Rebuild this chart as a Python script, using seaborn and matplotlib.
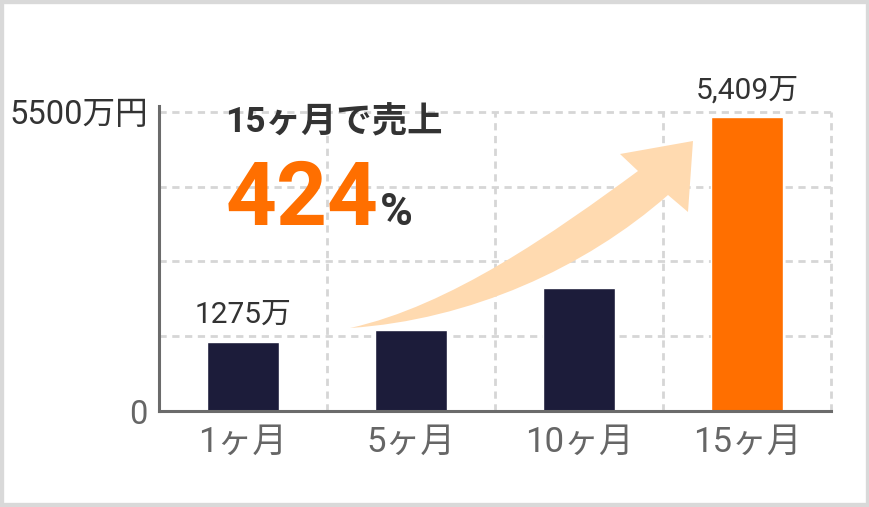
import matplotlib
matplotlib.use("Agg")
import matplotlib.pyplot as plt
import seaborn as sns
import pandas as pd
from matplotlib.path import Path
from matplotlib.patches import PathPatch, Rectangle

# --- data ---
months = ["1ヶ月", "5ヶ月", "10ヶ月", "15ヶ月"]
sales = [1275, 1490, 2255, 5409]          # 万円
bar_labels = ["1275万", "", "", "5,409万"]
bar_colors = ["#1c1c3a", "#1c1c3a", "#1c1c3a", "#ff6f00"]
ytick_values = [0, 1375, 2750, 4125, 5500]
ytick_labels = ["0", "", "", "", "5500万円"]

df = pd.DataFrame({"month": months, "sales": sales})

W, H = 870, 507
sns.set_style("white")
plt.rcParams["font.family"] = ["Roboto", "Noto Sans CJK JP", "DejaVu Sans"]

fig = plt.figure(figsize=(W / 100, H / 100), dpi=100)
ax = fig.add_axes([159 / W, (H - 411) / H, 672 / W, 305 / H])

sns.barplot(data=df, x="month", y="sales", hue="month", palette=bar_colors,
            width=0.43, saturation=1, legend=False, ax=ax, zorder=3)

ax.set_xlim(-0.5, 3.5)
ax.set_ylim(0, 5610)
ax.set_xlabel("")
ax.set_ylabel("")

# dashed grid
grid_kw = dict(color="#d6d6d6", lw=2.0, ls=(0, (2.6, 2)), zorder=0, clip_on=False)
for v in ytick_values[1:]:
    ax.plot([-0.5, 3.5], [v, v], **grid_kw)
for xv in [0.5, 1.5, 2.5, 3.5]:
    ax.plot([xv, xv], [0, 5500], **grid_kw)

ax.set_yticks(ytick_values)
ax.set_yticklabels(ytick_labels)
ax.tick_params(axis="y", length=0, pad=8, labelsize=23.5, labelcolor="#666666")
ax.get_yticklabels()[-1].set_color("#333333")
ax.tick_params(axis="x", length=0, pad=11, labelsize=25, labelcolor="#666666")

for side in ["top", "right"]:
    ax.spines[side].set_visible(False)
for side in ["left", "bottom"]:
    ax.spines[side].set_color("#6b6b6b")
    ax.spines[side].set_linewidth(2.2)
    ax.spines[side].set_zorder(4)

# value labels above bars
for i, (val, lab) in enumerate(zip(sales, bar_labels)):
    if lab:
        ax.annotate(lab, (i, val), xytext=(0, 9), textcoords="offset points",
                    ha="center", va="bottom", fontsize=21.5, color="#333333")

# growth arrow (decoration), in figure pixels
def fp(x, y):
    return (x / W, 1 - y / H)

verts = [fp(350, 328), fp(450, 306), fp(555, 232), fp(638, 171),
         fp(620, 154), fp(693, 141), fp(688, 212), fp(668, 195),
         fp(585, 268), fp(470, 320), fp(350, 328), fp(350, 328)]
codes = [Path.MOVETO, Path.CURVE4, Path.CURVE4, Path.CURVE4,
         Path.LINETO, Path.LINETO, Path.LINETO, Path.LINETO,
         Path.CURVE4, Path.CURVE4, Path.CURVE4, Path.CLOSEPOLY]
fig.patches.append(PathPatch(Path(verts, codes), transform=fig.transFigure,
                             facecolor="#ffdab0", edgecolor="none", zorder=1))

# headline
fig.text(225 / W, 1 - 123 / H, "15ヶ月で売上", fontsize=25.5, fontweight="bold",
         color="#333333", ha="left", va="center")
fig.text(226 / W, 1 - 225 / H, "424", fontsize=64, fontweight="bold",
         color="#ff6f00", ha="left", va="baseline")
fig.text(380 / W, 1 - 225 / H, "%", fontsize=32, fontweight="bold",
         color="#333333", ha="left", va="baseline")

# outer frame
fig.patches.append(Rectangle((0, 0), 1, 1, transform=fig.transFigure, fill=False,
                             edgecolor="#d9d9d9", lw=6, zorder=10))

fig.savefig("out.png", dpi=100)
